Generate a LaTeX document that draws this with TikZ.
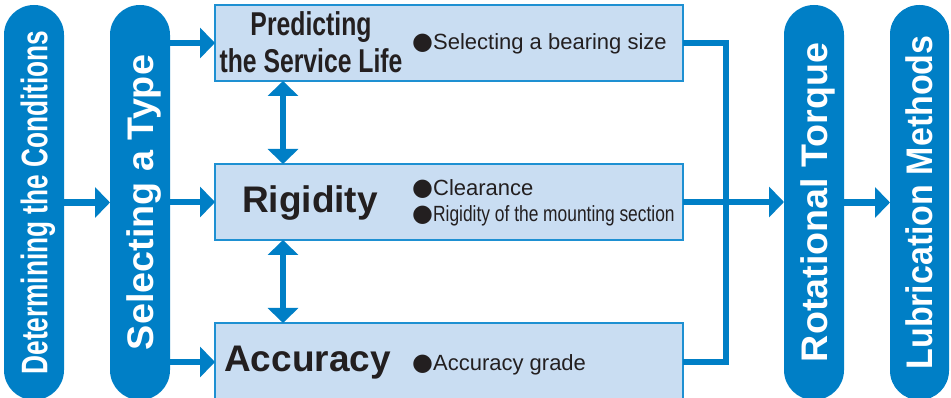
\documentclass[tikz,border=0pt]{standalone}
\usepackage{fontspec}
\setmainfont{Liberation Sans}
\newfontfamily\narrowsans[FakeStretch=0.79]{Liberation Sans}
\newfontfamily\narrowtitle[FakeStretch=0.75]{Liberation Sans}
\newfontfamily\dejavu{DejaVu Sans}
\usetikzlibrary{arrows.meta}
\definecolor{mainblue}{RGB}{0,127,198}
\definecolor{boxfill}{RGB}{201,221,242}
\definecolor{boxline}{RGB}{30,144,210}
\definecolor{ink}{RGB}{35,31,32}
\newcommand{\bul}{{\dejavu\fontsize{24}{26}\selectfont ●}}
\begin{document}
\begin{tikzpicture}[x=1pt,y=-1pt,
  pill/.style={fill=mainblue, rounded corners=29.9pt, minimum width=60pt, minimum height=395pt, inner sep=0pt, outer sep=0pt},
  pilltext/.style={rotate=90, text=white, inner sep=0pt, text height=26.5pt, text depth=0pt, font=\bfseries\fontsize{37}{37}\selectfont},
  stage/.style={fill=boxfill, draw=boxline, line width=1.1pt, minimum width=468pt, inner sep=0pt, outer sep=0pt},
  title/.style={text=ink, inner sep=0pt, anchor=base west, font=\bfseries\fontsize{37}{37}\selectfont},
  item/.style={text=ink, inner sep=0pt, anchor=base west, font=\fontsize{22}{26}\selectfont},
  arr/.style={draw=mainblue, line width=6.5pt, -{Triangle[width=30pt,length=15pt]}},
  dbl/.style={draw=mainblue, line width=6.5pt, {Triangle[width=30pt,length=15pt]}-{Triangle[width=30pt,length=15pt]}},
  link/.style={draw=mainblue, line width=6.5pt}
]
\useasboundingbox (0,0) rectangle (951,398);

\node[pill] (p1) at (34,202.5) {};
\node[pill] (p2) at (140,202.5) {};
\node[pill] (p3) at (814,202.5) {};
\node[pill, minimum width=59pt, rounded corners=29.4pt] (p4) at (919.5,202.5) {};

\node[pilltext] (t1) at (p1.center) {\resizebox{344pt}{\height}{Determining the Conditions}};
\node[pilltext] (t2) at (p2.center) {\resizebox{295pt}{\height}{Selecting a Type}};
\node[pilltext] (t3) at (p3.center) {\resizebox{319pt}{\height}{Rotational Torque}};
\node[pilltext] (t4) at (p4.center) {\resizebox{334pt}{\height}{Lubrication Methods}};

\node[stage, minimum height=76pt] (b1) at (449,43) {};
\node[stage, minimum height=76pt] (b2) at (449,202) {};
\node[stage, minimum height=78pt] (b3) at (449,362) {};

\node[text=ink, inner sep=0pt, anchor=north, align=center, font=\narrowtitle\bfseries\fontsize{33}{37}\selectfont] (b1title) at (311,11) {Predicting\\the Service Life};
\node[item] (b1i) at (412,50) {\bul Selecting a bearing size};
\node[title] (b2title) at (242,213) {Rigidity};
\node[item] (b2i1) at (412,196) {\bul Clearance};
\node[item] (b2i2) at (412,222) {\bul{\narrowsans Rigidity of the mounting section}};
\node[title] (b3title) at (224,371) {Accuracy};
\node[item] (b3i) at (412,370) {\bul Accuracy grade};

\draw[arr] (p1.east) -- (p2.west);
\draw[arr] (p2.east |- b1.west) -- (b1.west);
\draw[arr] (p2.east |- b2.west) -- (b2.west);
\draw[arr] (p2.east |- b3.west) -- (b3.west);
\coordinate (ax) at (283,0);
\draw[dbl] (b1.south -| ax) -- (b2.north -| ax);
\draw[dbl] (b2.south -| ax) -- (b3.north -| ax);
\coordinate (jx) at (726,0);
\draw[link] (b1.east) -| (jx |- b3.east) -- (b3.east);
\draw[arr] (b2.east) -- (p3.west |- b2.east);
\draw[arr] (p3.east) -- (p4.west);
\end{tikzpicture}
\end{document}
